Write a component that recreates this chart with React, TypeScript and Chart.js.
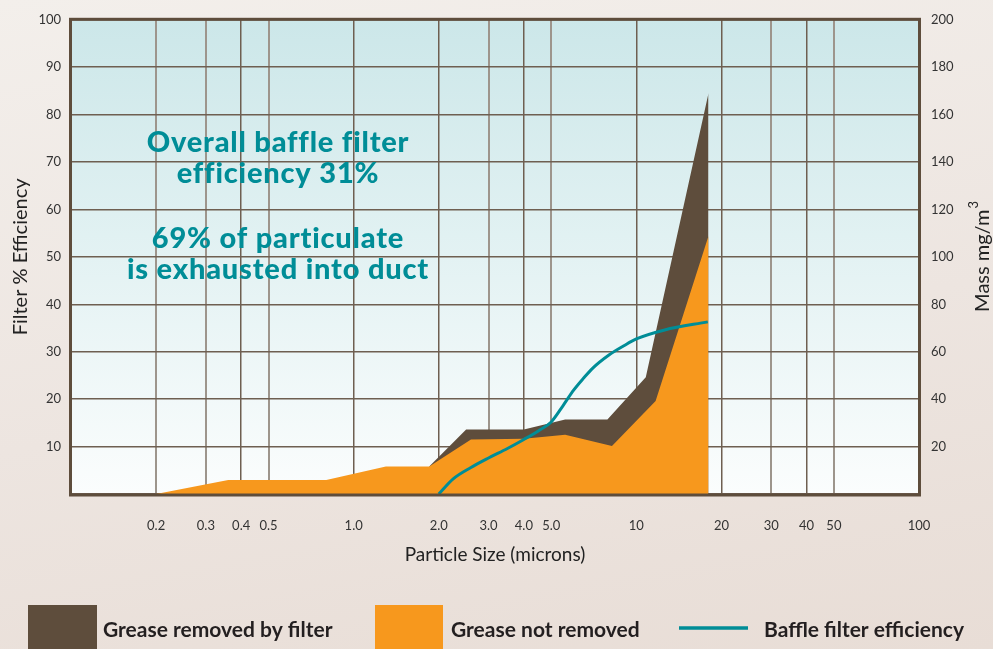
import { useEffect, useRef } from 'react';
import { Chart, registerables } from 'chart.js';

Chart.register(...registerables);

// ---- data ----
const xTickValues = [0.2, 0.3, 0.4, 0.5, 1, 2, 3, 4, 5, 10, 20, 30, 40, 50, 100];
const xTickLabels = ['0.2', '0.3', '0.4', '0.5', '1.0', '2.0', '3.0', '4.0', '5.0', '10', '20', '30', '40', '50', '100'];
const lightGridValues = [0.2, 0.3, 0.5, 3, 5, 30, 50];

// Grease not removed (mass mg/m3, right axis)
const notRemovedX = [0.2, 0.36, 0.8, 1.3, 1.85, 2.6, 4.0, 5.6, 8.2, 11.7, 18, 18];
const notRemovedMass = [0, 5.9, 5.9, 11.6, 11.6, 23, 23.3, 25, 20.2, 39.2, 108.8, 0];

// Total mass (top of "Grease removed by filter" band, mg/m3)
const totalX = [1.85, 2.5, 4.0, 5.6, 7.9, 10.8, 18, 18];
const totalMass = [11.6, 27.2, 27.2, 31.4, 31.4, 49.2, 169, 0];

// Baffle filter efficiency (% left axis)
const efficiencyX = [2.0, 2.25, 2.6, 3.0, 3.5, 4.0, 4.5, 5.0, 5.5, 6.0, 6.5, 7.0, 8.0, 9.0, 10.0, 12.6, 17.9];
const efficiencyPct = [0, 3.2, 5.6, 7.6, 9.6, 11.5, 13.3, 15.2, 18.6, 21.9, 24.4, 26.5, 29.3, 31.2, 32.7, 34.6, 36.3];

const annotationLines = ['Overall baffle filter', 'efficiency 31%', '69% of particulate', 'is exhausted into duct'];
const legendLabels = ['Grease removed by filter', 'Grease not removed', 'Baffle filter efficiency'];
const rightTitle = 'Mass mg/m';
const rightTitleSup = '3';

const BROWN = '#5e4d3c';
const ORANGE = '#f7981d';
const TEAL = '#008d97';
const FONT = 'Lato';

const zip = (xs: number[], ys: number[]) => xs.map((x, i) => ({ x, y: ys[i] }));

const decorPlugin = {
  id: 'decor',
  beforeDraw(chart: any) {
    const { ctx, chartArea: a } = chart;
    const g = ctx.createLinearGradient(0, a.top, 0, a.bottom);
    g.addColorStop(0, '#cce7e9');
    g.addColorStop(0.5, '#e3f2f3');
    g.addColorStop(1, '#fbfdfd');
    ctx.save();
    ctx.fillStyle = g;
    ctx.fillRect(a.left, a.top, a.right - a.left, a.bottom - a.top);
    ctx.restore();
  },
  afterDraw(chart: any) {
    const { ctx, chartArea: a } = chart;
    ctx.save();
    // frame
    ctx.strokeStyle = BROWN;
    ctx.lineWidth = 3;
    ctx.strokeRect(a.left - 0.5, a.top - 0.5, a.right - a.left + 1, a.bottom - a.top + 1.5);

    // annotation
    ctx.save();
    ctx.fillStyle = TEAL;
    ctx.textAlign = 'center';
    ctx.textBaseline = 'alphabetic';
    ctx.font = `900 29px ${FONT}`;
    (ctx as any).letterSpacing = '0.8px';
    const baselines = [152, 183, 248, 279];
    annotationLines.forEach((t, i) => ctx.fillText(t, 278, baselines[i]));
    ctx.restore();

    // right axis title (reads bottom to top)
    ctx.save();
    ctx.translate(983, (a.top + a.bottom) / 2);
    ctx.rotate(-Math.PI / 2);
    ctx.fillStyle = '#222';
    ctx.font = `20px ${FONT}`;
    const w1 = ctx.measureText(rightTitle).width;
    ctx.font = `13px ${FONT}`;
    const w2 = ctx.measureText(rightTitleSup).width;
    const start = -(w1 + w2) / 2;
    ctx.textAlign = 'left';
    ctx.textBaseline = 'middle';
    ctx.font = `20px ${FONT}`;
    ctx.fillText(rightTitle, start, 0);
    ctx.font = `13px ${FONT}`;
    ctx.fillText(rightTitleSup, start + w1 + 1, -9);
    ctx.restore();

    // legend
    ctx.textAlign = 'left';
    ctx.textBaseline = 'alphabetic';
    ctx.font = `bold 21px ${FONT}`;
    ctx.fillStyle = BROWN;
    ctx.fillRect(28, 605, 69, 50);
    ctx.fillStyle = ORANGE;
    ctx.fillRect(375, 605, 68, 50);
    ctx.strokeStyle = TEAL;
    ctx.lineWidth = 3.5;
    ctx.beginPath();
    ctx.moveTo(679, 628);
    ctx.lineTo(748, 628);
    ctx.stroke();
    ctx.fillStyle = '#231f20';
    ctx.fillText(legendLabels[0], 103, 637);
    ctx.fillText(legendLabels[1], 451, 637);
    ctx.fillText(legendLabels[2], 764, 637);
    ctx.restore();
  },
};

export default function App() {
  const ref = useRef<HTMLCanvasElement>(null);

  useEffect(() => {
    const chart = new Chart(ref.current!, {
      type: 'line',
      data: {
        datasets: [
          {
            label: legendLabels[2],
            data: zip(efficiencyX, efficiencyPct),
            yAxisID: 'y',
            borderColor: TEAL,
            borderWidth: 3,
            pointRadius: 0,
            fill: false,
            cubicInterpolationMode: 'monotone',
          },
          {
            label: legendLabels[1],
            data: zip(notRemovedX, notRemovedMass),
            yAxisID: 'y2',
            borderWidth: 0,
            borderColor: ORANGE,
            backgroundColor: ORANGE,
            pointRadius: 0,
            fill: 'origin',
            tension: 0,
          },
          {
            label: legendLabels[0],
            data: zip(totalX, totalMass),
            yAxisID: 'y2',
            borderWidth: 0,
            borderColor: BROWN,
            backgroundColor: BROWN,
            pointRadius: 0,
            fill: 'origin',
            tension: 0,
          },
        ],
      },
      options: {
        responsive: false,
        devicePixelRatio: 1,
        animation: false,
        layout: { padding: { top: 16, left: 0, right: 0, bottom: 0 } },
        plugins: { legend: { display: false }, tooltip: { enabled: false } },
        scales: {
          x: {
            type: 'logarithmic',
            min: 0.1,
            max: 100,
            afterBuildTicks: (s: any) => {
              s.ticks = xTickValues.map((v) => ({ value: v }));
            },
            afterFit: (s: any) => {
              s.height = 155;
            },
            border: { display: false },
            grid: {
              drawTicks: false,
              color: (c: any) => (lightGridValues.includes(c.tick?.value) ? '#9d958c' : '#6e5f51'),
              lineWidth: (c: any) => (lightGridValues.includes(c.tick?.value) ? 2 : 1.5),
            },
            ticks: {
              autoSkip: false,
              maxRotation: 0,
              padding: 24,
              color: '#333',
              font: { family: FONT, size: 13 },
              callback: (_v: any, i: number) => xTickLabels[i],
            },
            title: {
              display: true,
              text: 'Particle Size (microns)',
              color: '#222',
              font: { family: FONT, size: 19 },
              padding: { top: 0, bottom: 83 },
            },
          },
          y: {
            position: 'left',
            min: 0,
            max: 100,
            afterFit: (s: any) => {
              s.width = 71;
            },
            border: { display: false },
            grid: { drawTicks: false, color: '#6e5f51', lineWidth: 1.5 },
            ticks: {
              stepSize: 10,
              padding: 10,
              color: '#333',
              font: { family: FONT, size: 13 },
              callback: (v: any) => (v === 0 ? '' : v),
            },
            title: {
              display: true,
              text: 'Filter % Efficiency',
              color: '#222',
              font: { family: FONT, size: 20, lineHeight: 1 },
              padding: { top: 11, bottom: 0 },
            },
          },
          y2: {
            position: 'right',
            min: 0,
            max: 200,
            afterFit: (s: any) => {
              s.width = 74;
            },
            border: { display: false },
            grid: { display: false, drawTicks: false },
            ticks: {
              stepSize: 20,
              padding: 12,
              color: '#333',
              font: { family: FONT, size: 13 },
              callback: (v: any) => (v === 0 ? '' : v),
            },
            title: { display: false },
          },
        },
      },
      plugins: [decorPlugin],
    } as any);
    return () => chart.destroy();
  }, []);

  return (
    <div
      style={{
        position: 'fixed',
        left: 0,
        top: 0,
        width: 993,
        height: 649,
        overflow: 'hidden',
        background: 'linear-gradient(170deg, #f3efeb 0%, #ede5e0 55%, #e8ddd6 100%)',
      }}
    >
      <canvas ref={ref} width={993} height={649} style={{ display: 'block', width: 993, height: 649 }} />
    </div>
  );
}
